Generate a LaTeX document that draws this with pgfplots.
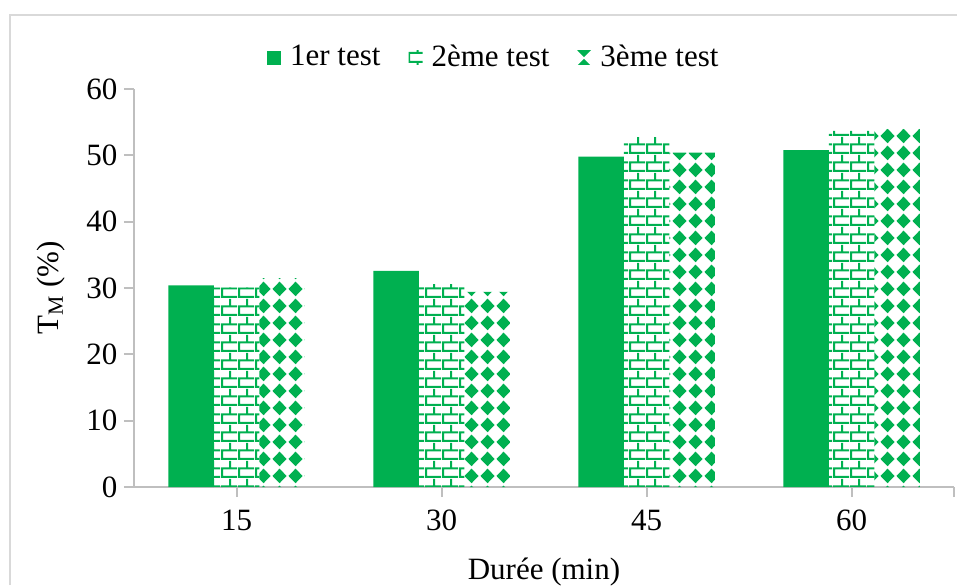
\documentclass[border=0pt]{standalone}
\usepackage{fontspec}
\setmainfont{Liberation Serif}
\usepackage{pgfplots}
\pgfplotsset{compat=1.18}
\usetikzlibrary{patterns}
\definecolor{xlgreen}{HTML}{00B050}
\definecolor{axgray}{HTML}{BFBFBF}
\definecolor{framegray}{HTML}{D9D9D9}

% brick pattern
\pgfdeclarepatternformonly{mybrick}{\pgfqpoint{0pt}{0pt}}{\pgfqpoint{8.5pt}{9pt}}{\pgfqpoint{8.5pt}{9pt}}{
  \pgfpathrectangle{\pgfqpoint{0pt}{0pt}}{\pgfqpoint{8.5pt}{1.1pt}}
  \pgfpathrectangle{\pgfqpoint{0pt}{4.5pt}}{\pgfqpoint{8.5pt}{1.1pt}}
  \pgfpathrectangle{\pgfqpoint{0pt}{1pt}}{\pgfqpoint{1.1pt}{3.6pt}}
  \pgfpathrectangle{\pgfqpoint{4.25pt}{5.5pt}}{\pgfqpoint{1.1pt}{3.5pt}}
  \pgfusepath{fill}
}
% diamond pattern
\pgfdeclarepatternformonly{mydiamond}{\pgfqpoint{0pt}{0pt}}{\pgfqpoint{8pt}{8.5pt}}{\pgfqpoint{8pt}{8.5pt}}{
  \pgfpathmoveto{\pgfqpoint{4pt}{0.4pt}}
  \pgfpathlineto{\pgfqpoint{7.75pt}{4.25pt}}
  \pgfpathlineto{\pgfqpoint{4pt}{8.1pt}}
  \pgfpathlineto{\pgfqpoint{0.25pt}{4.25pt}}
  \pgfpathclose
  \pgfusepath{fill}
}

\begin{document}
\fontsize{15.5}{18}\selectfont
\begin{tikzpicture}
\path[use as bounding box] (0pt,0pt) rectangle (478.5pt,-292.5pt);
\draw[framegray, line width=1pt] (4.75pt,-292.5pt) -- (4.75pt,-7.25pt) -- (478.5pt,-7.25pt);
\begin{axis}[
  at={(67pt,-243.5pt)}, anchor=south west,
  scale only axis,
  width=410pt, height=199pt,
  ybar=0pt, bar width=22.75pt,
  xmin=-0.5, xmax=3.5, ymin=0, ymax=60,
  xtick={0,1,2,3,3.5}, xticklabels={15,30,45,60,{}},
  ytick={0,10,...,60},
  axis x line*=bottom, axis y line*=left,
  axis line style={axgray, line width=1pt},
  tick style={axgray, line width=1pt},
  tick align=outside, major tick length=5pt,
  /pgf/number format/assume math mode=true,
  y tick label style={xshift=2pt},
  x tick label style={yshift=-1pt},
  xlabel={Durée (min)}, ylabel={T\textsubscript{M} (\%)},
  x label style={at={(axis description cs:0.5,0)}, anchor=center, yshift=-42.5pt},
  y label style={at={(axis description cs:0,0.5)}, anchor=center, rotate=0, yshift=41.5pt},
  legend style={at={(axis description cs:0.44,1.078)}, anchor=center, draw=none, fill=none,
    legend columns=3,
    /tikz/every odd column/.append style={column sep=2.5pt},
    /tikz/every even column/.append style={column sep=12pt}},
  legend image code/.code={\draw[#1, draw=none] (0pt,-3.5pt) rectangle (7pt,3.5pt);},
]
\addplot[fill=xlgreen, draw=none] coordinates {(0,30.4) (1,32.6) (2,49.8) (3,50.8)};
\addplot[pattern=mybrick, pattern color=xlgreen, draw=none] coordinates {(0,30.1) (1,30.6) (2,52.8) (3,53.7)};
\addplot[pattern=mydiamond, pattern color=xlgreen, draw=none] coordinates {(0,31.5) (1,29.4) (2,50.4) (3,54.0)};
\legend{1er test, 2ème test, 3ème test}
\end{axis}
\end{tikzpicture}
\end{document}
